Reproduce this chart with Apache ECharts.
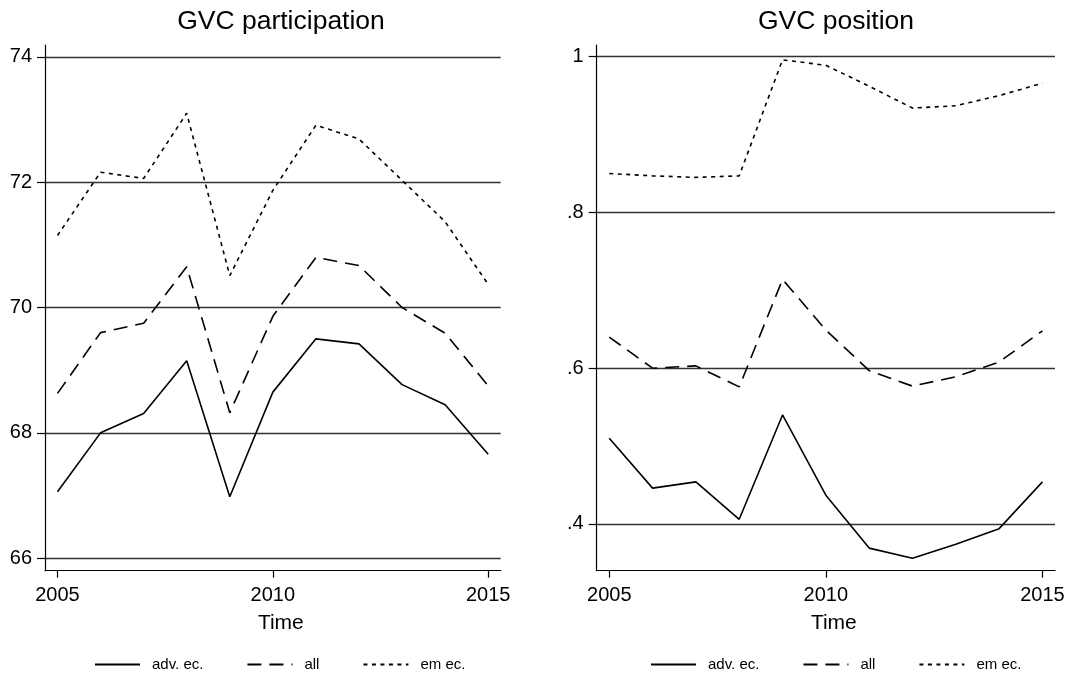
<!DOCTYPE html>
<html>
<head>
<meta charset="utf-8">
<script src="https://cdn.jsdelivr.net/npm/echarts@6/dist/echarts.min.js"></script>
<style>html,body{margin:0;padding:0;background:#fff}#c{width:1090px;height:682px}</style>
</head>
<body>
<div id="c"></div>
<script>
const years = [2005, 2006, 2007, 2008, 2009, 2010, 2011, 2012, 2013, 2014, 2015];
const seriesNames = ['adv. ec.', 'all', 'em ec.'];

// GVC participation
const partAdv = [67.06, 68.00, 68.31, 69.15, 66.98, 68.65, 69.50, 69.42, 68.77, 68.45, 67.66];
const partAll = [68.63, 69.60, 69.75, 70.65, 68.32, 69.86, 70.80, 70.67, 70.00, 69.59, 68.75];
const partEm  = [71.15, 72.16, 72.06, 73.10, 70.51, 71.87, 72.91, 72.69, 72.03, 71.37, 70.37];

// GVC position
const posAdv = [0.510, 0.446, 0.454, 0.406, 0.540, 0.437, 0.369, 0.356, 0.374, 0.394, 0.454];
const posAll = [0.640, 0.600, 0.603, 0.576, 0.714, 0.649, 0.597, 0.577, 0.589, 0.608, 0.648];
const posEm  = [0.850, 0.847, 0.845, 0.847, 0.996, 0.989, 0.962, 0.934, 0.937, 0.950, 0.966];

const xTicks = [2005, 2010, 2015];
const partTicks = [66, 68, 70, 72, 74];
const posTicks = [0.4, 0.6, 0.8, 1.0];

const FONT = '"Liberation Sans", Arial, Helvetica, sans-serif';
const dashes = ['solid', [14, 8], [4, 4.5]];

function pairs(vals) { return years.map((y, i) => [y, vals[i]]); }

function xAxisCfg(gridIndex) {
  return {
    type: 'value', gridIndex, min: 2004.71, max: 2015.29,
    name: 'Time', nameLocation: 'middle', nameGap: 42,
    nameTextStyle: { fontFamily: FONT, fontSize: 21, color: '#000', padding: [0, 0, 0, 16] },
    axisLine: { show: true, lineStyle: { color: '#000', width: 1.2 } },
    axisTick: { show: true, length: 7, lineStyle: { color: '#000', width: 1.2 }, customValues: xTicks },
    axisLabel: { fontFamily: FONT, fontSize: 20, color: '#000', margin: 15, customValues: xTicks, formatter: v => String(v) },
    splitLine: { show: false }
  };
}
function yAxisCfg(gridIndex, min, max, ticks, fmt) {
  return {
    type: 'value', gridIndex, min, max,
    axisLine: { show: true, lineStyle: { color: '#000', width: 1.2 } },
    axisTick: { show: true, length: 8, lineStyle: { color: '#000', width: 1.2 }, customValues: ticks },
    axisLabel: { fontFamily: FONT, fontSize: 20, color: '#000', margin: 13, customValues: ticks, formatter: fmt },
    splitLine: { show: true, lineStyle: { color: '#333', width: 1.3 } }
  };
}
function lineSeries(name, vals, idx, axisIndex) {
  return {
    type: 'line', name, data: pairs(vals), xAxisIndex: axisIndex, yAxisIndex: axisIndex,
    symbol: 'none', showSymbol: false, silent: true, animation: false,
    itemStyle: { color: '#000' },
    lineStyle: { color: '#000', width: 1.6, type: dashes[idx] }
  };
}
function legendCfg(left) {
  return {
    data: seriesNames, left, top: 652, itemWidth: 45, itemHeight: 14, itemGap: 43,
    selectedMode: false,
    itemStyle: { opacity: 0 },
    textStyle: { fontFamily: FONT, fontSize: 15, color: '#000', padding: [0, 0, 0, 7] }
  };
}

const chart = echarts.init(document.getElementById('c'));
chart.setOption({
  backgroundColor: '#fff',
  animation: false,
  graphic: [
    { type: 'text', x: 281, y: 22, style: { text: 'GVC participation', fontFamily: FONT, fontSize: 26.5, fill: '#000', textAlign: 'center', textVerticalAlign: 'middle' } },
    { type: 'text', x: 836, y: 22, style: { text: 'GVC position', fontFamily: FONT, fontSize: 26.5, fill: '#000', textAlign: 'center', textVerticalAlign: 'middle' } }
  ],
  grid: [
    { left: 45, top: 45, width: 455.7, height: 525.7 },
    { left: 596.7, top: 45, width: 458.3, height: 525.7 }
  ],
  xAxis: [xAxisCfg(0), xAxisCfg(1)],
  yAxis: [
    yAxisCfg(0, 65.8, 74.19, partTicks, v => String(v)),
    yAxisCfg(1, 0.34, 1.015, posTicks, v => (Math.round(v * 10) / 10 === 1 ? '1' : String(Math.round(v * 10) / 10).replace(/^0/, '')))
  ],
  legend: [legendCfg(89), legendCfg(645)],
  series: [
    lineSeries(seriesNames[0], partAdv, 0, 0),
    lineSeries(seriesNames[1], partAll, 1, 0),
    lineSeries(seriesNames[2], partEm, 2, 0),
    lineSeries(seriesNames[0], posAdv, 0, 1),
    lineSeries(seriesNames[1], posAll, 1, 1),
    lineSeries(seriesNames[2], posEm, 2, 1)
  ]
});
</script>
</body>
</html>
